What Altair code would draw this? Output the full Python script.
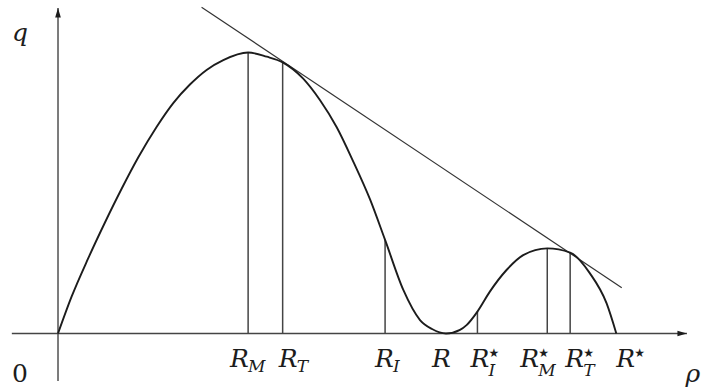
import altair as alt
import pandas as pd

# Flux curve q(rho), sampled along the graph (R = 1, peak flux = 1)
curve_rho = [0.0, 0.035, 0.078, 0.121, 0.164, 0.207, 0.254, 0.297, 0.340, 0.383,
             0.426, 0.490, 0.538, 0.579, 0.632, 0.675, 0.718, 0.761, 0.804, 0.843,
             0.890, 0.933, 0.964, 1.000, 1.036, 1.053, 1.081, 1.113, 1.156, 1.199,
             1.261, 1.320, 1.371, 1.414, 1.439]
curve_q = [0.000, 0.131, 0.268, 0.395, 0.515, 0.627, 0.735, 0.820, 0.886, 0.938,
           0.973, 1.000, 0.985, 0.965, 0.907, 0.831, 0.735, 0.612, 0.478, 0.333,
           0.155, 0.048, 0.016, 0.000, 0.013, 0.030, 0.078, 0.149, 0.226, 0.279,
           0.303, 0.288, 0.214, 0.107, 0.000]

# Marked densities and the flux at each of them
mark_main = ["R", "R", "R", "R", "R", "R", "R", "R"]
mark_sub = ["M", "T", "I", "", "I", "M", "T", ""]
mark_star = ["", "", "", "", "★", "★", "★", "★"]
mark_rho = [0.490, 0.579, 0.843, 1.000, 1.081, 1.261, 1.320, 1.439]
mark_q = [1.000, 0.965, 0.333, 0.000, 0.078, 0.303, 0.288, 0.000]

# Common tangent through R_T and R_T*
tangent_rho = [0.370, 1.453]
tangent_q = [1.161, 0.163]

# Extent of the drawn axes
axis_rho = [-0.119, 1.621]
axis_q = [-0.169, 1.158]

# ---- layout ----
W, H = 702, 391
X_DOM = [-0.1495, 1.6598]
Y_DOM = [-0.2046, 1.1868]
PX_PER_RHO = W / (X_DOM[1] - X_DOM[0])
LABEL_NUDGE_PX = [-18, -4, -10, -14, -7, -27, -5, 0]   # left edge of each label vs. its mark
SUB_GAP_PX = 18

INK = "#1c1c1c"
GREY = "#444444"
SERIF = "DejaVu Serif, Times New Roman, Liberation Serif, serif"

xscale = alt.Scale(domain=X_DOM, nice=False, zero=False)
yscale = alt.Scale(domain=Y_DOM, nice=False, zero=False)


def X(field):
    return alt.X(field, type="quantitative", scale=xscale, axis=None)


def Y(field):
    return alt.Y(field, type="quantitative", scale=yscale, axis=None)


curve_df = pd.DataFrame({"rho": curve_rho, "q": curve_q})
tangent_df = pd.DataFrame({"rho": tangent_rho, "q": tangent_q})

marks_df = pd.DataFrame({
    "main": mark_main, "sub": mark_sub, "star": mark_star,
    "rho": mark_rho, "q": mark_q,
})
marks_df["zero"] = 0.0
marks_df["left"] = marks_df["rho"] + pd.Series(LABEL_NUDGE_PX) / PX_PER_RHO
marks_df["subx"] = marks_df["left"] + SUB_GAP_PX / PX_PER_RHO
marks_df["starred"] = marks_df["star"] != ""

axes_df = pd.DataFrame({
    "x0": [axis_rho[0], 0.0], "x1": [axis_rho[1], 0.0],
    "y0": [0.0, axis_q[0]], "y1": [0.0, axis_q[1]],
})
tip_x_df = pd.DataFrame({"rho": [axis_rho[1]], "q": [0.0]})
tip_y_df = pd.DataFrame({"rho": [0.0], "q": [axis_q[1]]})

# Axes with arrowheads
axes = alt.Chart(axes_df).mark_rule(color=GREY, strokeWidth=1.4).encode(
    x=X("x0"), x2="x1", y=Y("y0"), y2="y1")
arrow_x = alt.Chart(tip_x_df).mark_point(
    shape="M0,0L-2,-0.6L-2,0.6Z", filled=True, size=90, color=INK, opacity=1, strokeWidth=0
).encode(x=X("rho"), y=Y("q"))
arrow_y = alt.Chart(tip_y_df).mark_point(
    shape="M0,0L0.6,2L-0.6,2Z", filled=True, size=90, color=INK, opacity=1, strokeWidth=0
).encode(x=X("rho"), y=Y("q"))

# Verticals from the axis up to the curve
verticals = alt.Chart(marks_df).transform_filter("datum.q > 0").mark_rule(
    color=GREY, strokeWidth=1.5).encode(x=X("rho"), y=Y("zero"), y2="q")

curve = alt.Chart(curve_df).mark_line(
    interpolate="monotone", color=INK, strokeWidth=1.9).encode(x=X("rho"), y=Y("q"))

tangent = alt.Chart(tangent_df).mark_line(color="#333333", strokeWidth=1.2).encode(
    x=X("rho"), y=Y("q"))

# Labels under the axis
main_lbl = alt.Chart(marks_df).mark_text(
    align="left", baseline="alphabetic", dy=33, font=SERIF, fontStyle="italic",
    fontSize=25, color=INK).encode(x=X("left"), y=Y("zero"), text="main:N")
sub_plain = alt.Chart(marks_df).transform_filter("!datum.starred").mark_text(
    align="left", baseline="alphabetic", dy=38, font=SERIF, fontStyle="italic",
    fontSize=17, color=INK).encode(x=X("subx"), y=Y("zero"), text="sub:N")
sub_star = alt.Chart(marks_df).transform_filter("datum.starred").mark_text(
    align="left", baseline="alphabetic", dy=42, font=SERIF, fontStyle="italic",
    fontSize=17, color=INK).encode(x=X("subx"), y=Y("zero"), text="sub:N")
star_lbl = alt.Chart(marks_df).mark_text(
    align="left", baseline="alphabetic", dy=23, font="DejaVu Sans",
    fontSize=12, color=INK).encode(x=X("subx"), y=Y("zero"), text="star:N")

origin_df = pd.DataFrame({"rho": [0.0], "q": [0.0], "t": ["0"]})
zero_lbl = alt.Chart(origin_df).mark_text(
    align="center", baseline="alphabetic", dx=-38, dy=48, font=SERIF,
    fontSize=25, color=INK).encode(x=X("rho"), y=Y("q"), text="t:N")

q_lbl = alt.Chart(pd.DataFrame({"rho": [0.0], "q": [axis_q[1]], "t": ["q"]})).mark_text(
    align="center", baseline="alphabetic", dx=-38, dy=33, font=SERIF, fontStyle="italic",
    fontSize=25, color=INK).encode(x=X("rho"), y=Y("q"), text="t:N")

rho_lbl = alt.Chart(pd.DataFrame({"rho": [axis_rho[1]], "q": [0.0], "t": ["ρ"]})).mark_text(
    align="center", baseline="alphabetic", dx=6, dy=48, font=SERIF, fontStyle="italic",
    fontSize=25, color=INK).encode(x=X("rho"), y=Y("q"), text="t:N")

chart = alt.layer(
    axes, arrow_x, arrow_y, verticals, tangent, curve,
    main_lbl, sub_plain, sub_star, star_lbl, zero_lbl, q_lbl, rho_lbl,
).properties(
    width=W, height=H, padding=0, autosize=alt.AutoSizeParams(type="none"),
    background="white",
).configure_view(stroke=None)

chart.save("out.html", embed_options={"renderer": "svg", "actions": False})
